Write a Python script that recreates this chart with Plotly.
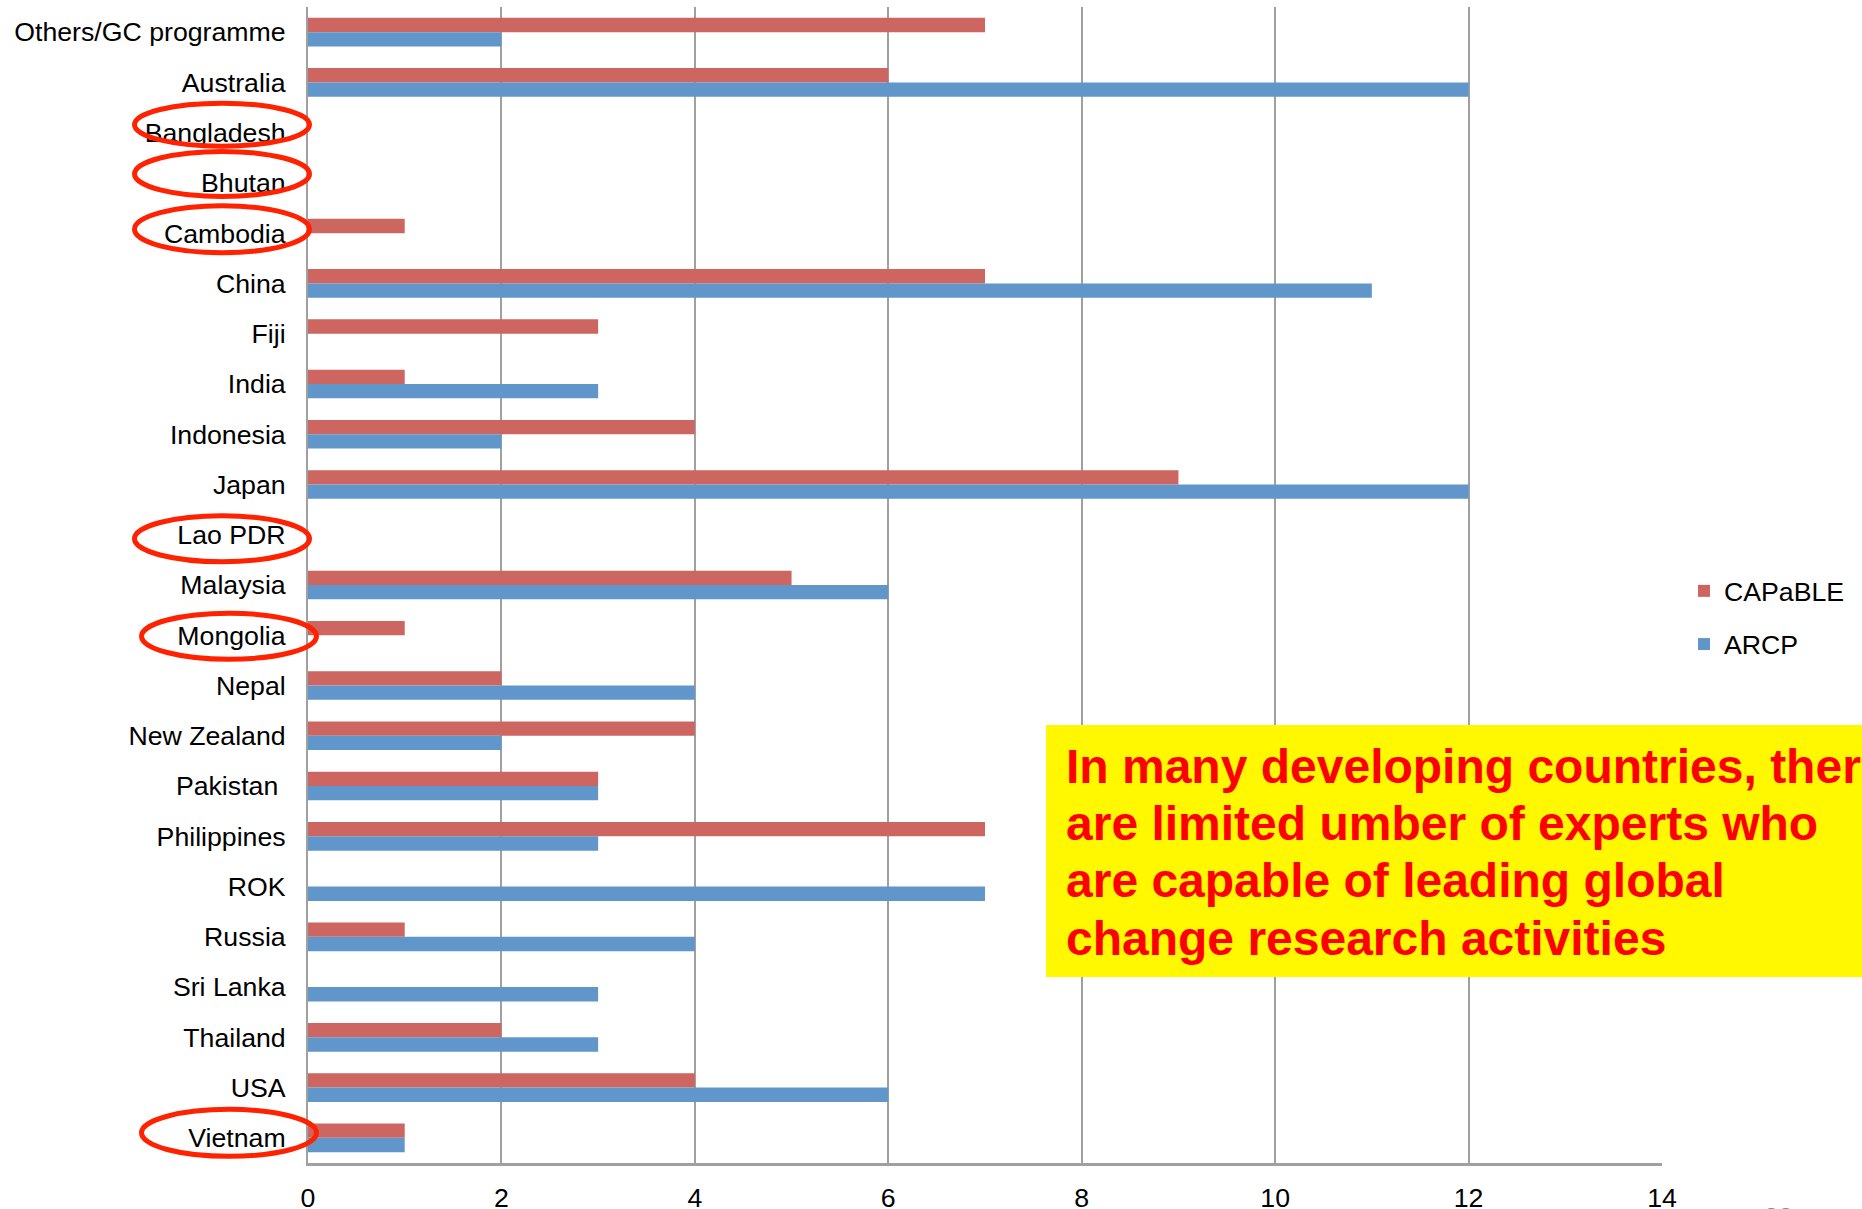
import plotly.graph_objects as go

# ---- data -------------------------------------------------------------
countries = [
    "Others/GC programme", "Australia", "Bangladesh", "Bhutan", "Cambodia",
    "China", "Fiji", "India", "Indonesia", "Japan", "Lao PDR", "Malaysia",
    "Mongolia", "Nepal", "New Zealand", "Pakistan\u00a0", "Philippines", "ROK",
    "Russia", "Sri Lanka", "Thailand", "USA", "Vietnam",
]
capable = [7, 6, 0, 0, 1, 7, 3, 1, 4, 9, 0, 5, 1, 2, 4, 3, 7, 0, 1, 0, 2, 4, 1]
arcp = [2, 12, 0, 0, 0, 11, 0, 3, 2, 12, 0, 6, 0, 4, 2, 3, 3, 7, 4, 3, 3, 6, 1]
x_ticks = [0, 2, 4, 6, 8, 10, 12, 14]

highlighted = ["Bangladesh", "Bhutan", "Cambodia", "Lao PDR", "Mongolia", "Vietnam"]

message_lines = [
    "In many developing countries, there",
    "are limited umber of experts who",
    "are capable of leading global",
    "change research activities",
]

# ---- page geometry (pixels) ------------------------------------------
W, H = 1862, 1209
ML, MR, MT, MB = 308, 200, 7, 46
PW, PH = W - ML - MR, H - MT - MB
BAND = PH / len(countries)


def px_x(px):
    return (px - ML) / PW


def px_y(py):
    return (H - MB - py) / PH


FONT = "Arial, Liberation Sans, Helvetica, sans-serif"
LABEL_SIZE = 26.7
RED = "#CD6561"
BLUE = "#6196CA"
GRID = "#A0A0A0"

fig = go.Figure()
fig.add_trace(go.Bar(
    name="CAPaBLE", y=countries, x=capable, orientation="h",
    marker=dict(color=RED, line=dict(width=0)), legendgroup="c",
))
fig.add_trace(go.Bar(
    name="ARCP", y=countries, x=arcp, orientation="h",
    marker=dict(color=BLUE, line=dict(width=0)), legendgroup="a",
))

# ellipses around the labels of selected countries: (left, right, dy, height)
ellipse_geom = {
    "Bangladesh": (132, 312, -8, 48),
    "Bhutan": (132, 312, -9, 50),
    "Cambodia": (132, 312, -4, 52),
    "Lao PDR": (132, 312, 4, 51),
    "Mongolia": (139, 319, 1, 51),
    "Vietnam": (139, 319, -5, 52),
}
shapes = []
for name in highlighted:
    left, right, dy, h = ellipse_geom[name]
    cy = MT + BAND * (countries.index(name) + 0.5) + dy
    shapes.append(dict(
        type="circle", xref="paper", yref="paper",
        x0=px_x(left + 2.5), x1=px_x(right - 2.5),
        y0=px_y(cy + h / 2 - 2.5), y1=px_y(cy - h / 2 + 2.5),
        line=dict(color="#FF2200", width=5), fillcolor="rgba(0,0,0,0)",
    ))

# yellow call-out box
shapes.append(dict(
    type="rect", xref="paper", yref="paper",
    x0=px_x(1046), x1=px_x(1875), y0=px_y(977), y1=px_y(725),
    fillcolor="#FFF800", line=dict(width=0), layer="above",
))

annotations = []
for i, line in enumerate(message_lines):
    annotations.append(dict(
        text=line, xref="paper", yref="paper",
        x=px_x(1064), y=px_y(766.5 + 57.2 * i),
        xanchor="left", yanchor="middle", showarrow=False,
        font=dict(family=FONT, size=48, color="#FF0000", weight="bold"),
    ))

# slide number peeking in at the bottom edge
annotations.append(dict(
    text="33", xref="paper", yref="paper", x=px_x(1778), y=px_y(1200),
    xanchor="center", yanchor="top", showarrow=False,
    font=dict(family=FONT, size=26, color="#8C8C8C"),
))

fig.update_layout(
    width=W, height=H,
    margin=dict(l=ML, r=MR, t=MT, b=MB, pad=0, autoexpand=False),
    paper_bgcolor="white", plot_bgcolor="white",
    barmode="group", bargap=0.43, bargroupgap=0,
    font=dict(family=FONT, size=LABEL_SIZE, color="black"),
    legend=dict(
        x=px_x(1684), y=px_y(567), xanchor="left", yanchor="top",
        font=dict(family=FONT, size=LABEL_SIZE, color="black"),
        tracegroupgap=15.5, bgcolor="rgba(0,0,0,0)",
    ),
    xaxis=dict(
        range=[0, 14], tickvals=x_ticks, ticks="", automargin=False,
        showgrid=True, gridcolor=GRID, gridwidth=2,
        showline=True, linecolor=GRID, linewidth=3,
        zeroline=False, ticklabelstandoff=9,
        tickfont=dict(family=FONT, size=LABEL_SIZE, color="black"),
    ),
    yaxis=dict(
        categoryorder="array", categoryarray=countries, automargin=False,
        range=[len(countries) - 0.5, -0.5], ticks="",
        showgrid=False, showline=True, linecolor=GRID, linewidth=2,
        zeroline=False, ticklabelstandoff=15,
        tickfont=dict(family=FONT, size=LABEL_SIZE, color="black"),
    ),
    shapes=shapes,
    annotations=annotations,
)

fig.write_html("out.html")
